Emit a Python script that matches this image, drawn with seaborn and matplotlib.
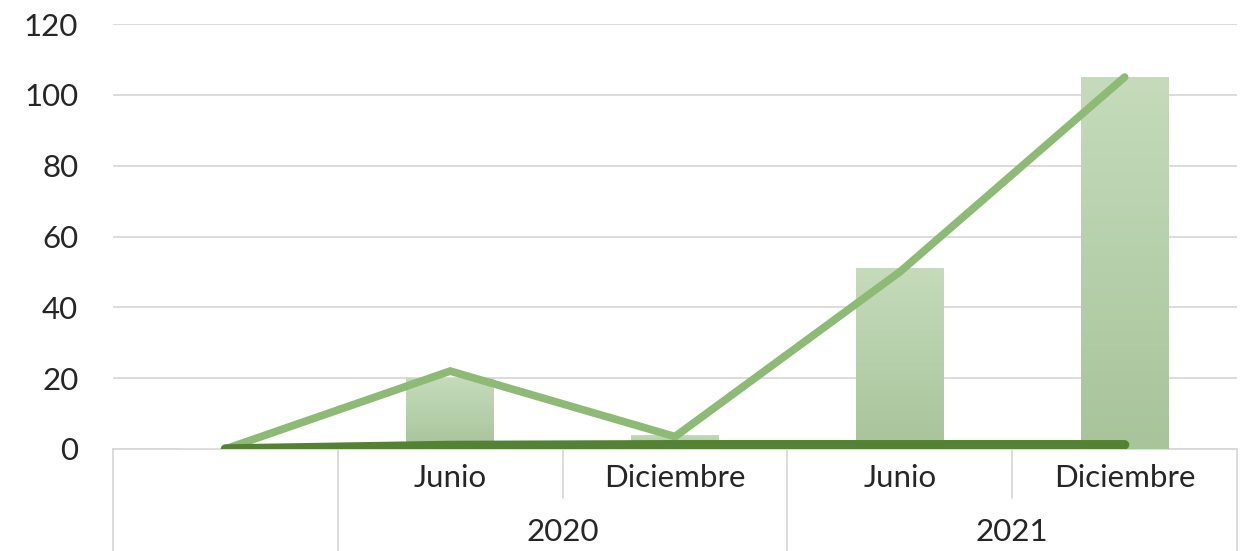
import matplotlib
matplotlib.use("Agg")
import matplotlib.pyplot as plt
import numpy as np
import pandas as pd
import seaborn as sns
from matplotlib.colors import LinearSegmentedColormap

# data
periods = ["", "2020-Junio", "2020-Diciembre", "2021-Junio", "2021-Diciembre"]
month_labels = ["", "Junio", "Diciembre", "Junio", "Diciembre"]
years = ["2020", "2021"]
year_spans = [(1, 2), (3, 4)]
bar_values = [0, 20, 4, 51, 105]
trend_values = [0, 22, 3.5, 50, 105]
base_values = [0, 1, 1.2, 1.2, 1.2]

BAR_TOP = "#C5DBBB"
BAR_BOTTOM = "#A8C49B"
TREND = "#8DBB76"
BASE = "#548235"
GRID = "#D9D9D9"
TEXT = "#262626"

sns.set_theme(style="white")
plt.rcParams["font.family"] = ["Lato", "DejaVu Sans"]

df = pd.DataFrame({
    "period": periods,
    "x": np.arange(len(periods)),
    "bar": bar_values,
    "trend": trend_values,
    "base": base_values,
})

fig = plt.figure(figsize=(12.43, 5.51), dpi=100)
ax = fig.add_axes([113 / 1243, 102 / 551, 1124 / 1243, 425 / 551])

sns.barplot(data=df, x="x", y="bar", width=0.39, color=BAR_TOP, ax=ax,
            native_scale=True, zorder=2)

# gradient fill for each bar
cmap = LinearSegmentedColormap.from_list("bar", [BAR_BOTTOM, BAR_TOP])
grad = np.linspace(0, 1, 256).reshape(-1, 1)
for patch in list(ax.patches):
    bb = patch.get_bbox()
    if bb.height <= 0:
        continue
    im = ax.imshow(grad, cmap=cmap, aspect="auto", origin="lower",
                   extent=(bb.x0, bb.x1, bb.y0, bb.y1), zorder=2.1)
    im.set_clip_path(patch)
    patch.set_facecolor("none")
    patch.set_edgecolor("none")

sns.lineplot(data=df, x="x", y="trend", color=TREND, linewidth=5.6, ax=ax,
             zorder=3, solid_capstyle="round", solid_joinstyle="miter")
sns.lineplot(data=df, x="x", y="base", color=BASE, linewidth=6.8, ax=ax,
             zorder=4, solid_capstyle="round")

ax.set_xlim(-0.5, len(periods) - 0.5)
ax.set_ylim(0, 120)
ax.set_yticks(range(0, 121, 20))
ax.set_xticks([])
ax.set_xlabel("")
ax.set_ylabel("")
ax.set_axisbelow(True)
ax.yaxis.grid(True, color=GRID, linewidth=1.3)
for s in ax.spines.values():
    s.set_visible(False)
ax.tick_params(axis="y", length=0, pad=25, labelsize=22.5, labelcolor=TEXT)
for lbl in ax.get_yticklabels():
    lbl.set_horizontalalignment("right")

# two-level category axis drawn below the plot
trans = ax.get_xaxis_transform()
ax.plot([-0.5, len(periods) - 0.5], [0, 0], color=GRID, lw=1.3,
        transform=trans, clip_on=False, zorder=1)
for i in range(len(periods) + 1):
    edge = i - 0.5
    full = edge in (-0.5, 0.5, 2.5, len(periods) - 0.5)
    ax.plot([edge, edge], [0, -0.26 if full else -0.115], color=GRID, lw=1.3,
            transform=trans, clip_on=False, zorder=1)
for i, lab in enumerate(month_labels):
    ax.text(i, -0.068, lab, transform=trans, ha="center", va="center",
            fontsize=22.5, color=TEXT)
for yr, (a, b) in zip(years, year_spans):
    ax.text((a + b) / 2, -0.195, yr, transform=trans, ha="center", va="center",
            fontsize=22.5, color=TEXT)

fig.savefig("out.png", dpi=100)
